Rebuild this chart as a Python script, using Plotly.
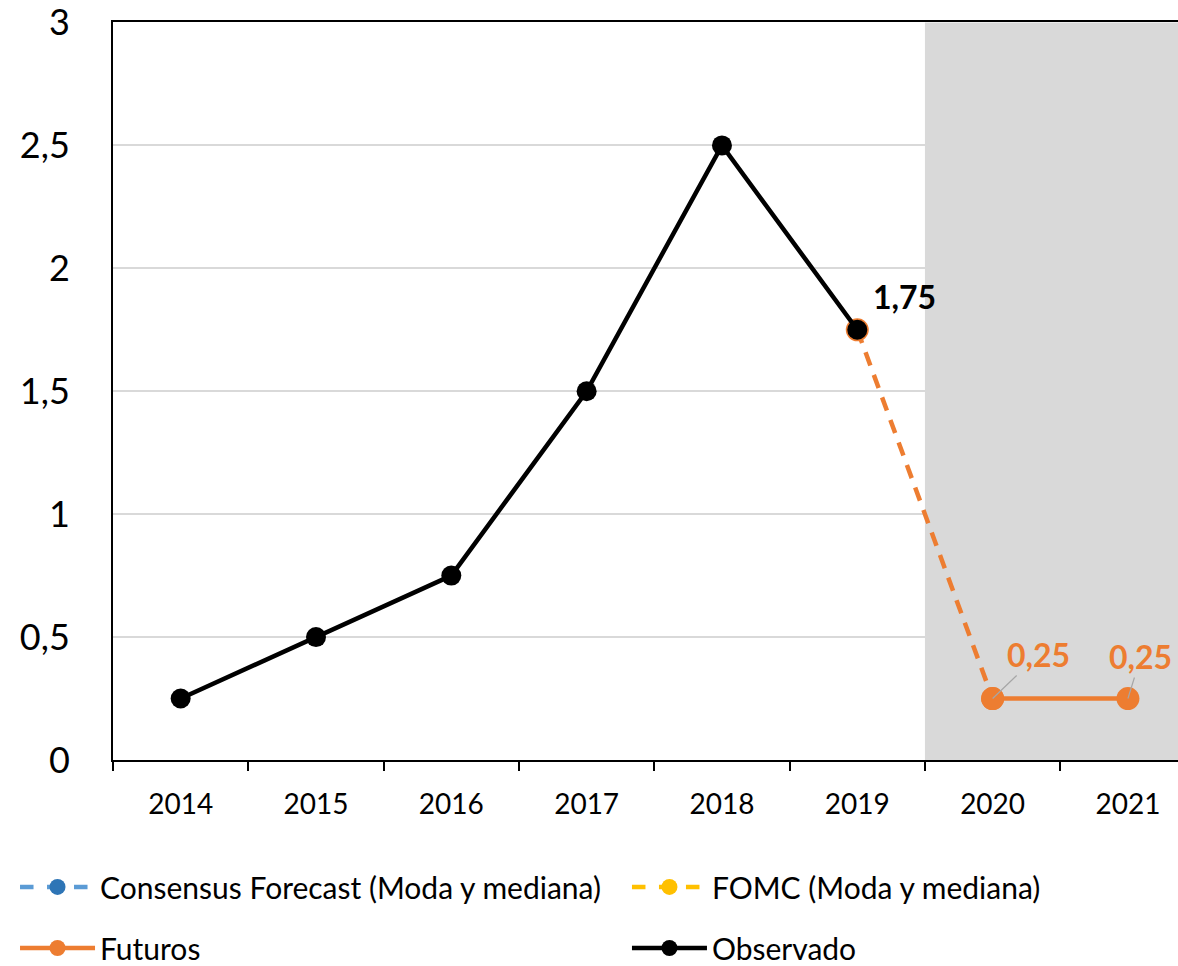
import plotly.graph_objects as go

# datos
years = ["2014", "2015", "2016", "2017", "2018", "2019", "2020", "2021"]
observado = [0.25, 0.5, 0.75, 1.5, 2.5, 1.75, None, None]
futuros = [None, None, None, None, None, 1.75, 0.25, 0.25]
consensus = [None] * 8
fomc = [None] * 8
y_ticks = [0, 0.5, 1, 1.5, 2, 2.5, 3]
y_labels = ["0", "0,5", "1", "1,5", "2", "2,5", "3"]

BLACK = "#000000"
ORANGE = "#ED7D31"
BLUE_LINE = "#5B9BD5"
BLUE_MARK = "#2E75B6"
YELLOW = "#FFC000"
FONT = "Lato, Carlito, sans-serif"

fig = go.Figure()

# series sin datos visibles (solo leyenda)
fig.add_trace(go.Scatter(
    x=years, y=consensus, name="Consensus Forecast (Moda y mediana)",
    mode="lines+markers",
    line=dict(color=BLUE_LINE, width=4.5, dash="dash"),
    marker=dict(color=BLUE_MARK, size=18),
    legend="legend",
))
fig.add_trace(go.Scatter(
    x=years, y=fomc, name="FOMC (Moda y mediana)",
    mode="lines+markers",
    line=dict(color=YELLOW, width=4.5, dash="dash"),
    marker=dict(color=YELLOW, size=18),
    legend="legend2",
))

# futuros: tramo discontinuo 2019-2020 y tramo continuo 2020-2021
fig.add_trace(go.Scatter(
    x=years[5:7], y=futuros[5:7], mode="lines+markers",
    line=dict(color=ORANGE, width=4.5, dash="14px,10px"),
    marker=dict(color=ORANGE, size=23),
    showlegend=False, hoverinfo="skip",
))
fig.add_trace(go.Scatter(
    x=years[6:], y=futuros[6:], name="Futuros",
    mode="lines+markers",
    line=dict(color=ORANGE, width=4.5),
    marker=dict(color=ORANGE, size=23),
    legend="legend3",
))

fig.add_trace(go.Scatter(
    x=years, y=observado, name="Observado",
    mode="lines+markers",
    line=dict(color=BLACK, width=4.5),
    marker=dict(color=BLACK, size=20),
    legend="legend4",
))

# zona sombreada (proyección 2020-2021)
fig.add_shape(
    type="rect", xref="x", yref="y",
    x0=years.index("2020") - 0.5, x1=len(years), y0=0, y1=3,
    fillcolor="#D9D9D9", line_width=0, layer="between",
)

# etiquetas de datos
fig.add_annotation(
    x=5, y=observado[5], text="<b>1,75</b>", showarrow=False,
    xshift=47, yshift=33,
    font=dict(family=FONT, size=32, color=BLACK),
)
fig.add_annotation(
    x=6, y=futuros[6], text="<b>0,25</b>",
    showarrow=True, arrowhead=0, arrowwidth=1.2, arrowcolor="#A6A6A6",
    ax=46, ay=-44,
    font=dict(family=FONT, size=32, color=ORANGE),
)
fig.add_annotation(
    x=7, y=futuros[7], text="<b>0,25</b>",
    showarrow=True, arrowhead=0, arrowwidth=1.2, arrowcolor="#A6A6A6",
    ax=13, ay=-42,
    font=dict(family=FONT, size=32, color=ORANGE),
)

legend_common = dict(
    orientation="h", xanchor="left", yanchor="middle",
    font=dict(family=FONT, size=30, color=BLACK),
    itemwidth=75,
    bgcolor="rgba(0,0,0,0)",
)
col1, col2 = -0.092, 0.4826
row1, row2 = -0.172, -0.2547

fig.update_layout(
    width=1178, height=966,
    margin=dict(l=113, r=0, t=22, b=206, autoexpand=False),
    paper_bgcolor="white", plot_bgcolor="white",
    separators=",.",
    font=dict(family=FONT, color=BLACK),
    legend=dict(x=col1, y=row1, **legend_common),
    legend2=dict(x=col2, y=row1, **legend_common),
    legend3=dict(x=col1, y=row2, **legend_common),
    legend4=dict(x=col2, y=row2, **legend_common),
    xaxis=dict(
        type="category", categoryorder="array", categoryarray=years,
        range=[-0.5, 7.37], automargin=False,
        showline=True, linecolor=BLACK, linewidth=2, mirror=True,
        ticks="outside", tickson="boundaries", ticklen=9, tickcolor=BLACK, tickwidth=1.5,
        showgrid=False,
        tickfont=dict(family=FONT, size=28, color=BLACK),
        ticklabelstandoff=18,
    ),
    yaxis=dict(
        range=[0, 3.002], tickvals=y_ticks, ticktext=y_labels, automargin=False,
        showline=True, linecolor=BLACK, linewidth=2,
        showgrid=True, gridcolor="#D9D9D9", gridwidth=1.5,
        zeroline=False, ticks="",
        tickfont=dict(family=FONT, size=36, color=BLACK),
        ticklabelstandoff=34, ticklabeloverflow="allow",
    ),
)

# quitar el margen por defecto del <body> para que la figura ocupe toda la ventana
fig.write_html(
    "out.html",
    config={"displayModeBar": False},
    post_script="document.body.style.margin='0';",
)
